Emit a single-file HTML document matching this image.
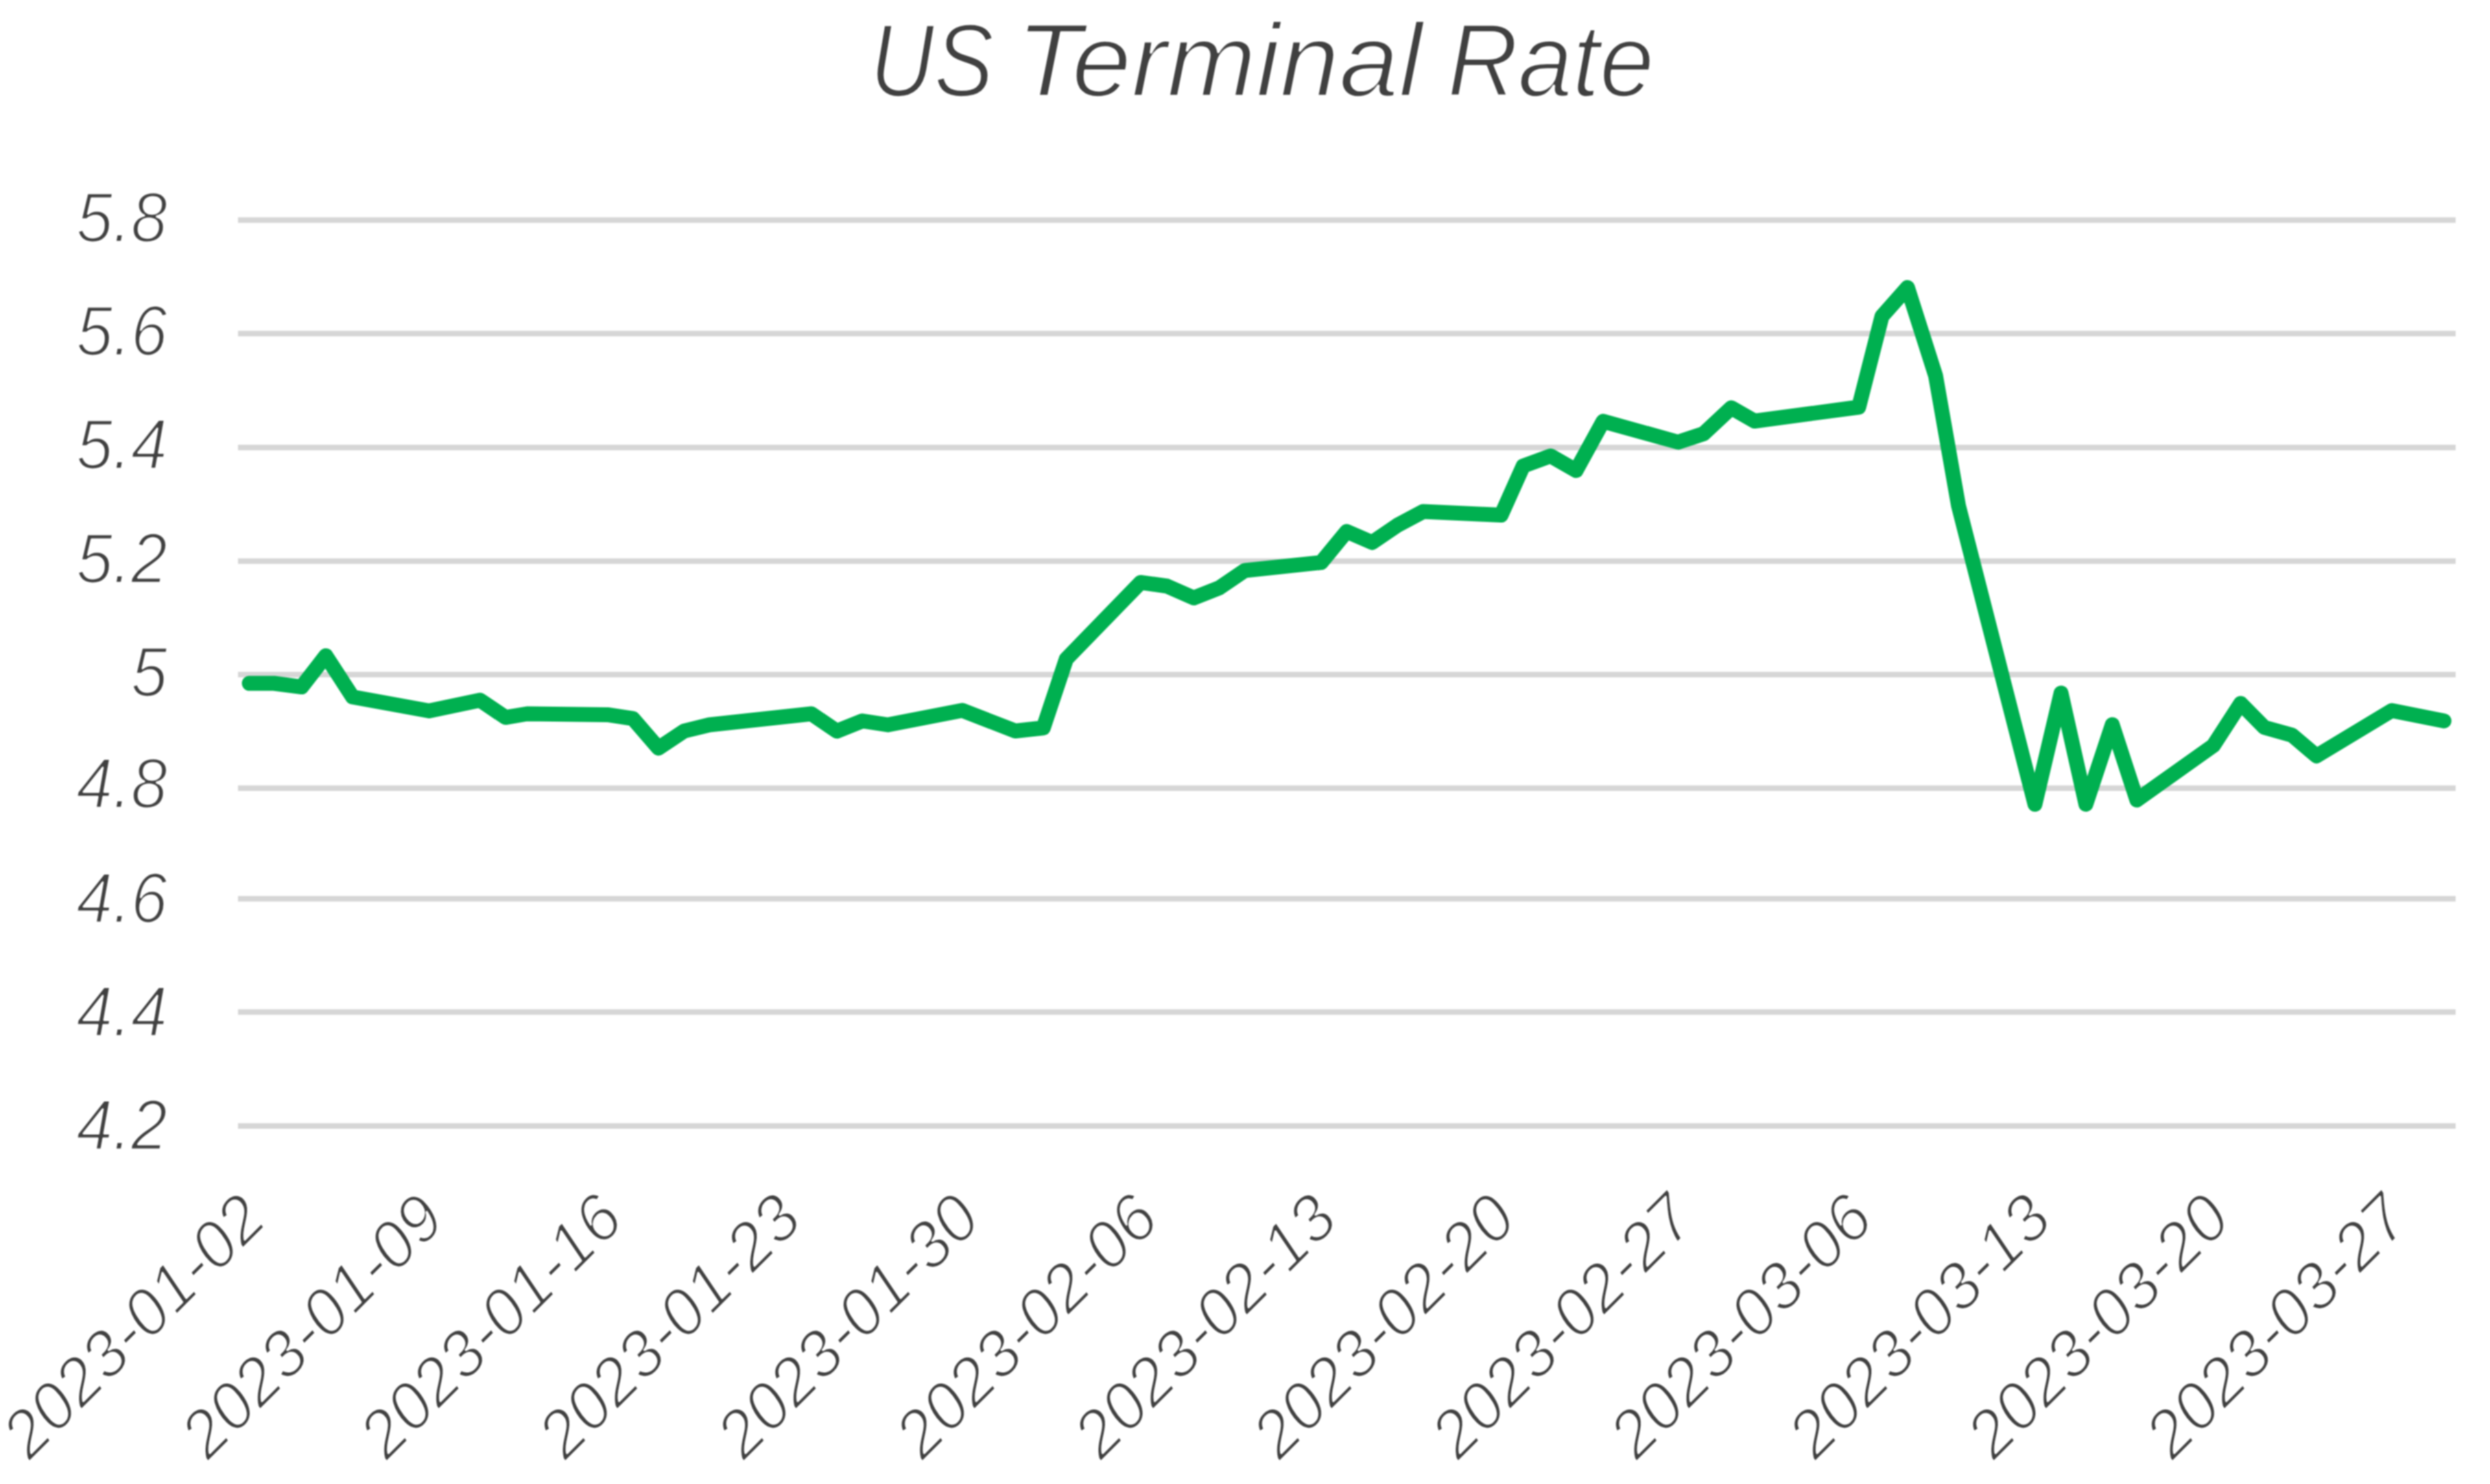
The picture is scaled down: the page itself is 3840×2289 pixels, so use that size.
<!DOCTYPE html>
<html lang="en">
<head>
<meta charset="utf-8">
<title>US Terminal Rate</title>
<style>
html,body{margin:0;padding:0;background:#fff;}
body{width:3840px;height:2289px;overflow:hidden;}
svg{display:block;filter:blur(1.3px);}
text{font-family:"Liberation Sans",Arial,sans-serif;font-style:italic;fill:#404040;stroke:#fff;paint-order:fill stroke;stroke-linejoin:round;}
.title{font-size:159px;stroke-width:3.5px;}
.yl{font-size:109px;stroke-width:3.2px;}
.xl{font-size:102.2px;letter-spacing:0px;stroke-width:3.2px;}
</style>
</head>
<body>
<svg width="3840" height="2289" viewBox="0 0 3840 2289">
<rect width="3840" height="2289" fill="#ffffff"/>
<g class="title">
<text transform="translate(1341.5,147.5) scale(0.865,1)">US</text>
<text transform="translate(1567.5,147.5) scale(1.037,1)">Terminal</text>
<text transform="translate(2232,147.5) scale(0.95,1)">Rate</text>
</g>
<g stroke="#d6d6d6" stroke-width="8.5" fill="none">
<line x1="367" y1="339.5" x2="3787" y2="339.5"/>
<line x1="367" y1="514.6" x2="3787" y2="514.6"/>
<line x1="367" y1="690.2" x2="3787" y2="690.2"/>
<line x1="367" y1="865.4" x2="3787" y2="865.4"/>
<line x1="367" y1="1040.5" x2="3787" y2="1040.5"/>
<line x1="367" y1="1215.7" x2="3787" y2="1215.7"/>
<line x1="367" y1="1386.3" x2="3787" y2="1386.3"/>
<line x1="367" y1="1561.0" x2="3787" y2="1561.0"/>
<line x1="367" y1="1736.7" x2="3787" y2="1736.7"/>
</g>
<g text-anchor="end">
<text class="yl" transform="translate(258,373.0) scale(0.925,1)">5.8</text>
<text class="yl" transform="translate(258,548.2) scale(0.925,1)">5.6</text>
<text class="yl" transform="translate(258,723.4) scale(0.925,1)">5.4</text>
<text class="yl" transform="translate(258,898.6) scale(0.925,1)">5.2</text>
<text class="yl" transform="translate(258,1073.8) scale(0.925,1)">5</text>
<text class="yl" transform="translate(258,1246.3) scale(0.925,1)">4.8</text>
<text class="yl" transform="translate(258,1422.8) scale(0.925,1)">4.6</text>
<text class="yl" transform="translate(258,1597.5) scale(0.925,1)">4.4</text>
<text class="yl" transform="translate(258,1772.8) scale(0.925,1)">4.2</text>
</g>
<polyline fill="none" stroke="#00b050" stroke-width="23" stroke-linecap="round" stroke-linejoin="round" points="384.5,1054.0 422.5,1054.0 465.1,1059.6 502.5,1011.4 543.7,1075.0 661.7,1096.5 740.3,1080.0 779.6,1106.6 813.0,1101.0 936.8,1102.4 976.2,1108.4 1015.5,1154.0 1054.8,1127.7 1094.1,1118.0 1251.3,1101.0 1290.6,1127.7 1329.9,1112.0 1369.2,1118.0 1484.0,1095.8 1565.8,1127.5 1609.0,1122.7 1644.4,1016.5 1759.0,898.4 1799.5,904.0 1841.0,922.3 1880.3,906.8 1919.6,880.0 2037.5,867.6 2076.8,819.8 2116.1,836.8 2155.4,810.0 2194.8,789.0 2315.0,794.6 2349.0,718.7 2391.3,703.2 2430.6,725.7 2472.3,649.8 2587.9,682.0 2627.2,669.0 2670.0,629.0 2705.8,649.5 2866.5,628.0 2902.3,487.8 2941.7,443.5 2985.0,579.5 3020.3,780.0 3138.2,1240.5 3178.5,1069.0 3216.8,1240.5 3257.5,1117.7 3295.4,1234.0 3413.4,1150.0 3455.5,1085.0 3492.0,1122.0 3534.5,1133.8 3572.5,1166.0 3688.5,1096.0 3769.0,1112.0"/>
<g text-anchor="end">
<text class="xl" transform="translate(415.3,1885) rotate(-45)">2023-01-02</text>
<text class="xl" transform="translate(690.7,1885) rotate(-45)">2023-01-09</text>
<text class="xl" transform="translate(966.1,1885) rotate(-45)">2023-01-16</text>
<text class="xl" transform="translate(1241.5,1885) rotate(-45)">2023-01-23</text>
<text class="xl" transform="translate(1516.9,1885) rotate(-45)">2023-01-30</text>
<text class="xl" transform="translate(1792.3,1885) rotate(-45)">2023-02-06</text>
<text class="xl" transform="translate(2067.7,1885) rotate(-45)">2023-02-13</text>
<text class="xl" transform="translate(2343.1,1885) rotate(-45)">2023-02-20</text>
<text class="xl" transform="translate(2618.5,1885) rotate(-45)">2023-02-27</text>
<text class="xl" transform="translate(2893.9,1885) rotate(-45)">2023-03-06</text>
<text class="xl" transform="translate(3169.3,1885) rotate(-45)">2023-03-13</text>
<text class="xl" transform="translate(3444.7,1885) rotate(-45)">2023-03-20</text>
<text class="xl" transform="translate(3720.1,1885) rotate(-45)">2023-03-27</text>
</g>
</svg>
</body>
</html>
